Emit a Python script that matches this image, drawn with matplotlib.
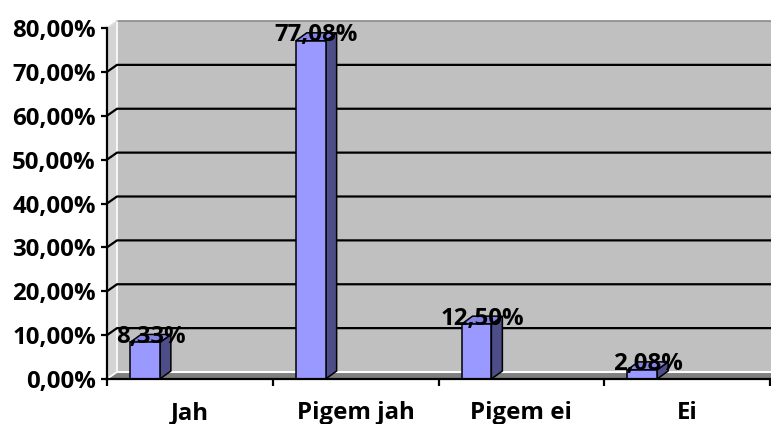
import matplotlib
matplotlib.use("Agg")
import matplotlib.pyplot as plt
from matplotlib.patches import Polygon

categories = ["Jah", "Pigem jah", "Pigem ei", "Ei"]
values = [8.33, 77.08, 12.50, 2.08]
value_labels = ["8,33%", "77,08%", "12,50%", "2,08%"]
yticks = [0, 10, 20, 30, 40, 50, 60, 70, 80]
ytick_labels = ["0,00%", "10,00%", "20,00%", "30,00%", "40,00%",
                "50,00%", "60,00%", "70,00%", "80,00%"]

W, H = 771, 424
fig = plt.figure(figsize=(W / 100, H / 100), dpi=100)
x0_px, x1_px = 107, 770
y0_px, y1_px = 379, 28
ax = fig.add_axes([x0_px / W, (H - y0_px) / H, (x1_px - x0_px) / W, (y0_px - y1_px) / H])
ax.set_xlim(0, 4)
ax.set_ylim(0, 80)
ax.patch.set_visible(False)

pxx = 4 / (x1_px - x0_px)
pxy = 80 / (y0_px - y1_px)
wdx, wdy = 10 * pxx, 7 * pxy      # wall depth
bdx, bdy = 11 * pxx, 8 * pxy      # bar depth
xr = 4.2

FONT = ["Open Sans", "DejaVu Sans"]
fs = 17.3

# left side wall
ax.add_patch(Polygon([(0, 0), (0, 80), (wdx, 80 + wdy), (wdx, wdy)], closed=True,
                     facecolor="#d4d4d4", edgecolor="none", clip_on=False, zorder=1))
ax.plot([wdx, wdx], [wdy, 80 + wdy], color="white", lw=1.2, clip_on=False, zorder=2)
# back wall
ax.add_patch(Polygon([(wdx, wdy), (wdx, 80 + wdy), (xr, 80 + wdy), (xr, wdy)], closed=True,
                     facecolor="#c0c0c0", edgecolor="none", clip_on=False, zorder=1))
ax.plot([wdx, xr], [80 + wdy, 80 + wdy], color="#8a8a8a", lw=1.2, clip_on=False, zorder=2)
ax.plot([0, wdx], [80, 80 + wdy], color="#e0e0e0", lw=1.2, clip_on=False, zorder=2)
# floor
ax.add_patch(Polygon([(0, 0), (wdx, wdy), (xr, wdy), (xr, 0)], closed=True,
                     facecolor="#808080", edgecolor="none", clip_on=False, zorder=1))
ax.plot([wdx, xr], [wdy, wdy], color="white", lw=1.5, clip_on=False, zorder=2)
ax.plot([0, wdx], [0, wdy], color="white", lw=1.2, clip_on=False, zorder=2)

# gridlines
for v in yticks[1:-1]:
    ax.plot([0, wdx, xr], [v, v + wdy, v + wdy], color="black", lw=1.6,
            clip_on=False, zorder=3, solid_capstyle="butt")

# bars
face_c, side_c, top_c = "#9999ff", "#4d4d87", "#8585e8"
for i, v in enumerate(values):
    l = i + 0.139
    r = l + 0.18
    ax.add_patch(Polygon([(r, 0), (r + bdx, bdy), (r + bdx, v + bdy), (r, v)], closed=True,
                         facecolor=side_c, edgecolor="black", lw=1.1, zorder=5, clip_on=False))
    ax.add_patch(Polygon([(l, v), (l + bdx, v + bdy), (r + bdx, v + bdy), (r, v)], closed=True,
                         facecolor=top_c, edgecolor="black", lw=1.1, zorder=5, clip_on=False))
    ax.add_patch(Polygon([(l, 0), (l, v), (r, v), (r, 0)], closed=True,
                         facecolor=face_c, edgecolor="black", lw=1.1, zorder=6, clip_on=False))
    ax.text((l + r) / 2 + bdx / 2, v + bdy * 0.7, value_labels[i], ha="center", va="center",
            fontsize=fs, fontweight="bold", family=FONT, color="black", zorder=8, clip_on=False)

# axes
for s in ["top", "right"]:
    ax.spines[s].set_visible(False)
ax.spines["left"].set_linewidth(1.6)
ax.spines["bottom"].set_linewidth(1.6)
ax.spines["left"].set_zorder(7)
ax.spines["bottom"].set_zorder(7)
ax.set_yticks(yticks)
ax.set_yticklabels(ytick_labels, fontsize=fs, fontweight="bold", family=FONT)
ax.tick_params(axis="y", direction="out", length=4.5, width=1.6, pad=3.5)
ax.set_xticks([0, 1, 2, 3, 4])
ax.set_xticklabels([])
ax.set_xticks([0.5, 1.5, 2.5, 3.5], minor=True)
ax.set_xticklabels(categories, minor=True, fontsize=fs, fontweight="bold", family=FONT)
ax.tick_params(axis="x", which="major", direction="out", length=5, width=1.6)
ax.tick_params(axis="x", which="minor", length=0, pad=16)

fig.savefig("out.png", dpi=100)
